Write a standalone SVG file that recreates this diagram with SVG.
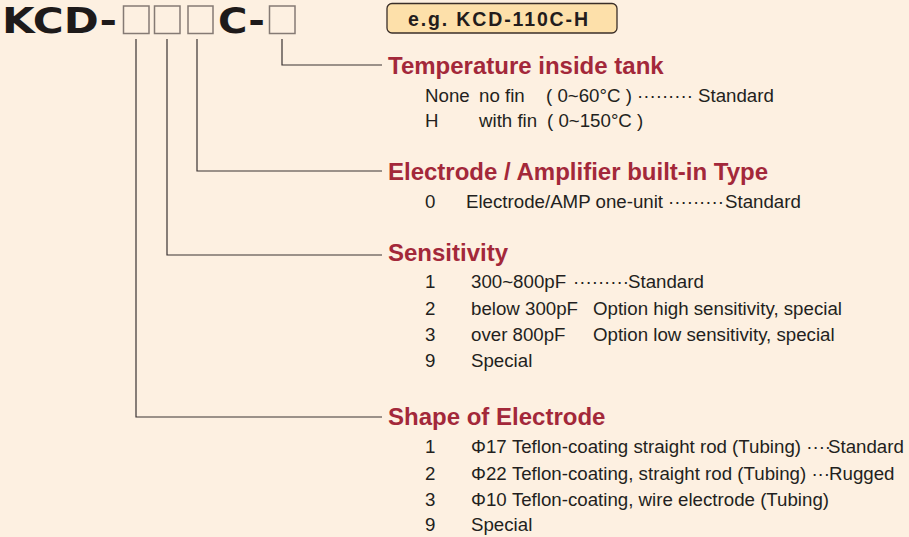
<svg xmlns="http://www.w3.org/2000/svg" width="909" height="537" viewBox="0 0 909 537">
<style>
.bg{fill:#fdf0e1}
.code{font-family:"DejaVu Sans",sans-serif;font-weight:bold;font-size:36px;fill:#1e1a1a}
.box{fill:none;stroke:#857a74;stroke-width:1.5}
.badge{fill:#fde0aa;stroke:#3a2e28;stroke-width:1.3}
.badgetxt{font-family:"Liberation Sans",Arial,sans-serif;font-weight:bold;font-size:19.5px;fill:#231c1c}
.head{font-family:"Liberation Sans",Arial,sans-serif;font-weight:bold;font-size:24px;fill:#a3283a}
.body{font-family:"Liberation Sans",Arial,sans-serif;font-size:18.7px;fill:#231f20}
.conn{fill:none;stroke:#3a3232;stroke-width:1.2}
</style>
<rect class="bg" x="0" y="0" width="909" height="537"/>
<g id="code">
<text class="code" x="2" y="33" textLength="115" lengthAdjust="spacingAndGlyphs">KCD-</text>
<rect class="box" x="123.5" y="6" width="25.5" height="27.5"/>
<rect class="box" x="154.5" y="6" width="25.5" height="27.5"/>
<rect class="box" x="188" y="6" width="25" height="27.5"/>
<text class="code" x="218" y="33" textLength="47" lengthAdjust="spacingAndGlyphs">C-</text>
<rect class="box" x="269.5" y="6" width="25.5" height="27.5"/>
</g>
<g id="example">
<rect class="badge" x="387" y="3.5" width="230" height="29.5" rx="5"/>
<text class="badgetxt" x="408" y="26" textLength="180" lengthAdjust="spacing">e.g. KCD-110C-H</text>
</g>
<g id="connectors">
<path class="conn" d="M282 39V65H382"/>
<path class="conn" d="M197 39V171H382"/>
<path class="conn" d="M167 39V255H382"/>
<path class="conn" d="M136 39V417H382"/>
</g>
<g id="temperature">
<text class="head" x="388" y="74">Temperature inside tank</text>
<text class="body" y="102"><tspan x="425">None</tspan><tspan x="479">no fin</tspan><tspan x="546">( 0~60°C )</tspan><tspan x="637">·········</tspan><tspan x="698">Standard</tspan></text>
<text class="body" y="127"><tspan x="425">H</tspan><tspan x="479">with fin</tspan><tspan x="547">( 0~150°C )</tspan></text>
</g>
<g id="electrode-type">
<text class="head" x="388" y="180">Electrode / Amplifier built-in Type</text>
<text class="body" y="208"><tspan x="425">0</tspan><tspan x="466">Electrode/AMP one-unit</tspan><tspan x="668">·········</tspan><tspan x="725">Standard</tspan></text>
</g>
<g id="sensitivity">
<text class="head" x="388" y="261">Sensitivity</text>
<text class="body" y="288"><tspan x="425">1</tspan><tspan x="471">300~800pF</tspan><tspan x="573">·········</tspan><tspan x="628">Standard</tspan></text>
<text class="body" y="315"><tspan x="425">2</tspan><tspan x="471">below 300pF</tspan><tspan x="593">Option high sensitivity, special</tspan></text>
<text class="body" y="341"><tspan x="425">3</tspan><tspan x="471">over 800pF</tspan><tspan x="593">Option low sensitivity, special</tspan></text>
<text class="body" y="367"><tspan x="425">9</tspan><tspan x="471">Special</tspan></text>
</g>
<g id="shape">
<text class="head" x="388" y="425">Shape of Electrode</text>
<text class="body" y="453"><tspan x="425">1</tspan><tspan x="471">Φ17 Teflon-coating straight rod (Tubing) ····</tspan><tspan x="828">Standard</tspan></text>
<text class="body" y="480"><tspan x="425">2</tspan><tspan x="471">Φ22 Teflon-coating, straight rod (Tubing) ···</tspan><tspan x="829">Rugged</tspan></text>
<text class="body" y="506"><tspan x="425">3</tspan><tspan x="471">Φ10 Teflon-coating, wire electrode (Tubing)</tspan></text>
<text class="body" y="531"><tspan x="425">9</tspan><tspan x="471">Special</tspan></text>
</g>
</svg>
